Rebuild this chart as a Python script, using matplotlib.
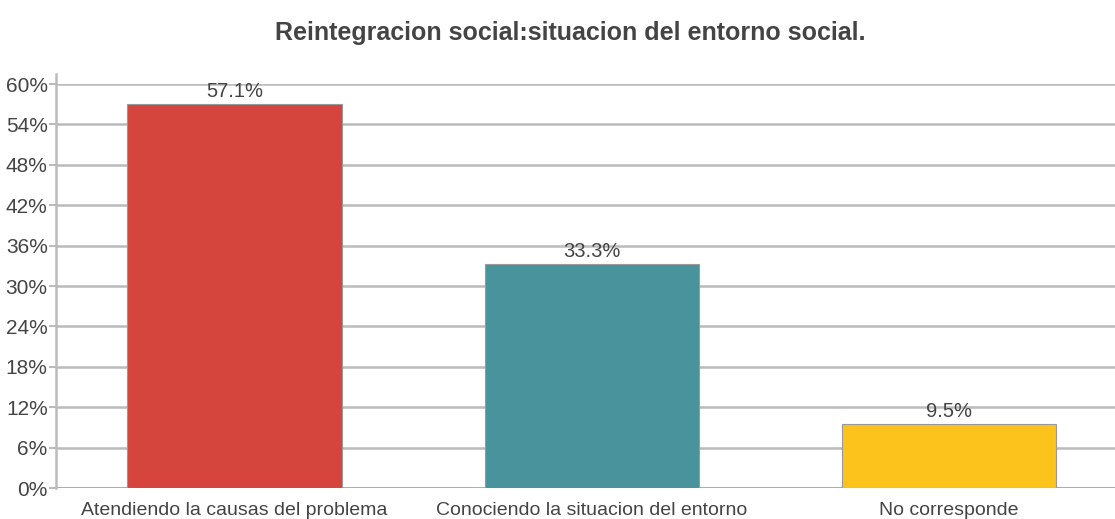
import numpy as np
import matplotlib.pyplot as plt

categories = ["Atendiendo la causas del problema", "Conociendo la situacion del entorno", "No corresponde"]
values = [57.1, 33.3, 9.5]
colors = ["#D5443D", "#48939C", "#FBC31B"]
yticks = [0, 6, 12, 18, 24, 30, 36, 42, 48, 54, 60]

plt.rcParams['font.family'] = ['Liberation Sans', 'DejaVu Sans']

fig = plt.figure(figsize=(11.15, 5.19), dpi=100)
ax = fig.add_axes([56 / 1115, 31 / 519, (1127.5 - 56) / 1115, 404 / 519])

x = np.arange(len(categories))
ax.bar(x, values, width=0.6, color=colors, edgecolor="#999999", linewidth=0.8, zorder=3)
for xi, v in zip(x, values):
    ax.text(xi, v + 0.4, f"{v}%", ha="center", va="bottom", fontsize=14.5, color="#444444", zorder=4)

ax.set_xlim(-0.5, 2.5)
ax.set_ylim(0, 60)
ax.set_yticks(yticks)
ax.set_yticklabels([f"{t}%" for t in yticks])
ax.set_xticks(x)
ax.set_xticklabels(categories)
ax.tick_params(axis="y", length=5, color="#BBBBBB", width=1.5, labelsize=15, labelcolor="#444444", pad=1)
ax.tick_params(axis="x", length=0, labelsize=14, labelcolor="#444444", pad=10)
ax.grid(axis="y", color="#BBBBBB", linewidth=1.8, zorder=0)

for s in ["top", "right", "bottom"]:
    ax.spines[s].set_visible(False)
ax.spines["left"].set_color("#BBBBBB")
ax.spines["left"].set_linewidth(1.8)
ax.spines["left"].set_bounds(0, 61.5)
ax.axhline(0, color="#AAAAAA", linewidth=2, zorder=2)

fig.text(570 / 1115, 1 - 33 / 519, "Reintegracion social:situacion del entorno social.",
         ha="center", va="center", fontsize=18, fontweight="bold", color="#444444")

fig.savefig("out.png", dpi=100)
